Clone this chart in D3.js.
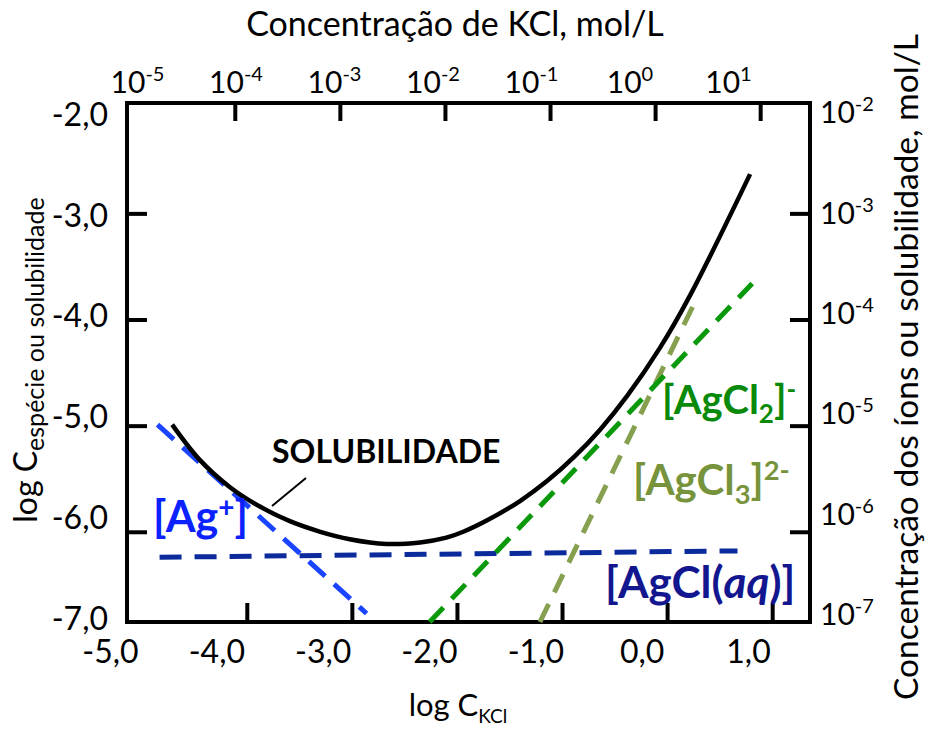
<!DOCTYPE html>
<html>
<head>
<meta charset="utf-8">
<script src="https://cdn.jsdelivr.net/npm/d3@7"></script>
<style>
  body { margin: 0; background: #fff; }
  text { font-family: Lato, "Open Sans", sans-serif; fill: #000; }
</style>
</head>
<body>
<svg id="chart" width="932" height="730"></svg>
<script>
// tick values (log units)
const logKClTicks = [-5, -4, -3, -2, -1, 0, 1];
const logCTicks = [-7, -6, -5, -4, -3, -2];
const innerXTicks = [-4, -3, -2, -1, 0, 1];
const innerYTicks = [-6, -5, -4, -3];

// curves: [log C_KCl, log C]
const solubility = [
    [-4.71, -4.99], [-4.45, -5.32], [-4.16, -5.58], [-3.88, -5.76], [-3.59, -5.90],
    [-3.30, -6.00], [-3.02, -6.07], [-2.67, -6.115], [-2.35, -6.10], [-2.10, -6.055],
    [-1.94, -6.00], [-1.69, -5.88], [-1.40, -5.71], [-1.14, -5.52], [-0.88, -5.29],
    [-0.64, -5.04], [-0.38, -4.72], [-0.07, -4.27], [0.22, -3.77], [0.79, -2.63]
];
const agPlus = [[-4.85, -4.99], [-2.86, -6.77]];
const agclAq = [[-4.83, -6.24], [0.67, -6.18]];
const agcl2 = [[-2.26, -6.85], [0.81, -3.66]];
const agcl3 = [[-1.21, -6.85], [0.26, -3.845]];

const svg = d3.select("#chart");

// the original's frame does not start exactly on round values
const x = d3.scaleLinear().domain([-5.14, 1.36]).range([127, 810]);
const y = d3.scaleLinear().domain([-6.85, -1.96]).range([622, 103]);
// tick labels sit a bit off their ticks in the original
const xLab = d3.scaleLinear().domain([-5, 1]).range([110, 748]);
const xTopLab = d3.scaleLinear().domain([-5, 1]).range([137, 728]);
const yLab = d3.scaleLinear().domain([-7, -2]).range([619, 115]);
const yRightLab = d3.scaleLinear().domain([-7, -2]).range([615, 113]);
const xTop = x.copy().range([115, 798]); // top ticks are shifted left

const fmt = v => v.toFixed(1).replace(".", ",");

function styleTicks(g) {
    g.select(".domain").remove();
    g.selectAll("line").attr("stroke", "#000").attr("stroke-width", 4);
}

// inner tick marks
svg.append("g").attr("transform", "translate(0,622)")
    .call(d3.axisBottom(x).tickValues(innerXTicks).tickSizeInner(-19).tickSizeOuter(0).tickFormat(""))
    .call(styleTicks);
svg.append("g").attr("transform", "translate(0,103)")
    .call(d3.axisTop(xTop).tickValues(innerXTicks).tickSizeInner(-18).tickSizeOuter(0).tickFormat(""))
    .call(styleTicks);
svg.append("g").attr("transform", "translate(127,0)")
    .call(d3.axisLeft(y).tickValues(innerYTicks).tickSizeInner(-20).tickSizeOuter(0).tickFormat(""))
    .call(styleTicks);
svg.append("g").attr("transform", "translate(810,0)")
    .call(d3.axisRight(y).tickValues(innerYTicks).tickSizeInner(-20).tickSizeOuter(0).tickFormat(""))
    .call(styleTicks);

// frame
svg.append("rect")
    .attr("x", x.range()[0]).attr("y", y.range()[1])
    .attr("width", x.range()[1] - x.range()[0])
    .attr("height", y.range()[0] - y.range()[1])
    .attr("fill", "none").attr("stroke", "#000").attr("stroke-width", 4);

// tick labels
function labelStyle(size) {
    return g => {
        g.select(".domain").remove();
        g.selectAll("text").attr("font-size", size).attr("fill", "#000")
            .style("font-family", "Lato, sans-serif");
    };
}
svg.append("g").attr("transform", "translate(0,622)")
    .call(d3.axisBottom(xLab).tickValues(logKClTicks).tickSize(0).tickPadding(18).tickFormat(fmt))
    .call(labelStyle(32));
svg.append("g").attr("transform", "translate(127,0)")
    .call(d3.axisLeft(yLab).tickValues(logCTicks).tickSize(0).tickPadding(19).tickFormat(fmt))
    .call(labelStyle(32));

function powerLabels(g) {
    g.selectAll("text").each(function (d) {
        const t = d3.select(this);
        t.text("10");
        t.append("tspan").attr("dy", -12).attr("font-size", 20).text(d);
    });
}
svg.append("g").attr("transform", "translate(0,103)")
    .call(d3.axisTop(xTopLab).tickValues(logKClTicks).tickSize(0).tickPadding(10))
    .call(labelStyle(30)).call(powerLabels);
svg.append("g").attr("transform", "translate(810,0)")
    .call(d3.axisRight(yRightLab).tickValues(logCTicks).tickSize(0).tickPadding(10))
    .call(labelStyle(30)).call(powerLabels);

// axis titles
svg.append("text").attr("x", 455).attr("y", 36).attr("text-anchor", "middle")
    .attr("font-size", 34).text("Concentração de KCl, mol/L");

const xt = svg.append("text").attr("x", 458).attr("y", 716).attr("text-anchor", "middle")
    .attr("font-size", 31).text("log C");
xt.append("tspan").attr("dy", 7).attr("font-size", 19).text("KCl");

const yt = svg.append("text").attr("transform", "translate(37,360) rotate(-90)")
    .attr("text-anchor", "middle").attr("font-size", 32).text("log C");
yt.append("tspan").attr("dy", 7).attr("font-size", 25).text("espécie ou solubilidade");

svg.append("text").attr("transform", "translate(918,367) rotate(-90)")
    .attr("text-anchor", "middle").attr("font-size", 33.5)
    .text("Concentração dos íons ou solubilidade, mol/L");

// species lines
const line = d3.line().x(d => x(d[0])).y(d => y(d[1]));

svg.append("path").datum(agclAq).attr("d", line)
    .attr("fill", "none").attr("stroke", "#0b2a9c").attr("stroke-width", 5)
    .attr("stroke-dasharray", "22,13");
svg.append("path").datum(agPlus).attr("d", line)
    .attr("fill", "none").attr("stroke", "#1a44ff").attr("stroke-width", 5)
    .attr("stroke-dasharray", "22,12");
svg.append("path").datum(agcl3).attr("d", line)
    .attr("fill", "none").attr("stroke", "#86a050").attr("stroke-width", 5)
    .attr("stroke-dasharray", "20,13");
svg.append("path").datum(agcl2).attr("d", line)
    .attr("fill", "none").attr("stroke", "#0a990a").attr("stroke-width", 5)
    .attr("stroke-dasharray", "20,12");

svg.append("path").datum(solubility)
    .attr("d", d3.line().x(d => x(d[0])).y(d => y(d[1])).curve(d3.curveCatmullRom.alpha(0.5)))
    .attr("fill", "none").attr("stroke", "#000").attr("stroke-width", 4.5);

// annotations
svg.append("line").attr("x1", 272).attr("y1", 506).attr("x2", 306).attr("y2", 478)
    .attr("stroke", "#000").attr("stroke-width", 2);
svg.append("text").attr("x", 272).attr("y", 463).attr("font-size", 32)
    .attr("font-weight", "bold").text("SOLUBILIDADE");

function species(px, py, size, color, parts) {
    const t = svg.append("text").attr("x", px).attr("y", py)
        .attr("font-size", size).attr("font-weight", "bold").style("fill", color);
    let shift = 0;
    parts.forEach(p => {
        const s = t.append("tspan").text(p.t);
        const target = p.sub ? 9 : p.sup ? -15 : 0;
        s.attr("dy", target - shift);
        shift = target;
        if (p.sub || p.sup) s.attr("font-size", size * 0.65);
        if (p.it) s.attr("font-style", "italic");
    });
}
species(153, 532, 43, "#0b22ff", [{t: "[Ag"}, {t: "+", sup: true}, {t: "]"}]);
species(662, 414, 40, "#0a8a0a", [{t: "[AgCl"}, {t: "2", sub: true}, {t: "]"}, {t: "-", sup: true}]);
species(633, 495, 42, "#77933c", [{t: "[AgCl"}, {t: "3", sub: true}, {t: "]"}, {t: "2-", sup: true}]);
species(605, 598, 44, "#12168f", [{t: "[AgCl("}, {t: "aq", it: true}, {t: ")]"}]);
</script>
</body>
</html>
